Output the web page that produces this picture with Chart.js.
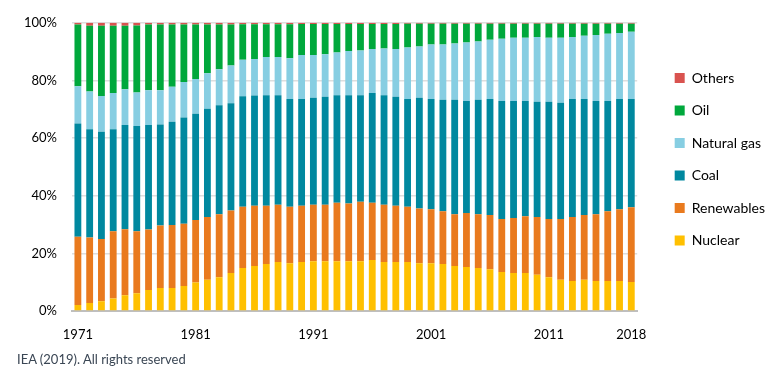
<!DOCTYPE html>
<html>
<head>
<meta charset="utf-8">
<script src="https://cdn.jsdelivr.net/npm/chart.js@4/dist/chart.umd.min.js"></script>
<style>
  body { margin: 0; background: #fff; }
  #wrap { position: relative; width: 781px; height: 384px; }
  #note { position: absolute; left: 17px; top: 351px; font: 13px Lato, 'Open Sans', sans-serif; color: #3a4654; }
</style>
</head>
<body>
<div id="wrap">
  <canvas id="mix"></canvas>
  <div id="note">IEA (2019). All rights reserved</div>
</div>
<script>
const years = []
for (let y = 1971; y <= 2018; y++) years.push(String(y))
const shownYears = ['1971', '1981', '1991', '2001', '2011', '2018']

// shares in %
const nuclear = [2.1, 2.8, 3.4, 4.3, 5.5, 6.2, 7.3, 8.0, 8.0, 8.7, 9.9, 10.8, 11.7, 13.2, 14.9, 15.6,
  16.3, 17.0, 16.6, 17.0, 17.3, 17.3, 17.3, 17.3, 17.3, 17.7, 17.0, 17.0, 17.0, 16.6, 16.6, 16.3,
  15.6, 15.3, 14.9, 14.5, 13.5, 13.2, 13.2, 12.6, 11.7, 10.8, 10.4, 10.8, 10.4, 10.4, 10.4, 10.1]
const renewables = [23.7, 22.7, 21.6, 23.4, 22.9, 21.5, 21.0, 21.7, 21.8, 21.6, 21.7, 21.8, 21.9, 21.7, 21.3, 20.9,
  20.2, 19.9, 19.6, 19.5, 19.6, 19.6, 20.3, 20.0, 20.6, 19.9, 19.9, 19.5, 19.2, 19.0, 18.7, 18.3,
  18.0, 18.7, 18.7, 18.8, 18.4, 19.1, 19.7, 20.0, 20.2, 21.1, 22.2, 22.5, 23.2, 24.2, 24.9, 25.9]
const coal = [39.3, 37.6, 37.2, 35.4, 36.1, 36.5, 36.2, 35.0, 35.9, 36.8, 36.8, 37.6, 37.8, 37.2, 38.3, 38.3,
  38.4, 38.0, 37.4, 37.1, 37.1, 37.4, 37.3, 37.6, 37.0, 38.0, 38.0, 37.8, 37.4, 38.4, 38.3, 38.7,
  39.7, 38.9, 39.7, 40.3, 41.0, 40.6, 40.0, 40.0, 40.7, 40.4, 41.0, 40.3, 39.3, 38.3, 38.3, 37.6]
const naturalGas = [12.9, 13.1, 12.4, 12.5, 12.4, 11.6, 12.1, 11.9, 12.1, 12.4, 12.1, 12.3, 12.5, 13.1, 12.7, 12.6,
  13.2, 13.2, 14.1, 15.2, 14.8, 14.8, 14.8, 15.3, 15.5, 15.3, 16.2, 16.6, 17.8, 17.8, 18.9, 19.2,
  19.5, 20.3, 20.2, 20.5, 21.6, 21.9, 21.9, 22.5, 22.2, 22.5, 21.5, 21.9, 22.9, 23.3, 22.9, 23.3]
const oil = [21.4, 22.8, 24.4, 23.4, 22.1, 23.3, 22.8, 22.8, 21.6, 19.9, 18.9, 16.9, 15.5, 14.2, 12.3, 12.1,
  11.4, 11.4, 11.8, 10.8, 10.8, 10.5, 9.9, 9.4, 9.2, 8.7, 8.5, 8.7, 8.3, 7.9, 7.2, 7.2,
  6.9, 6.5, 6.2, 5.6, 5.2, 4.9, 4.9, 4.6, 4.9, 4.9, 4.6, 4.2, 3.9, 3.5, 3.2, 2.8]
const others = [0.6, 1.0, 1.0, 1.0, 1.0, 0.9, 0.6, 0.6, 0.6, 0.6, 0.6, 0.6, 0.6, 0.6, 0.5, 0.5,
  0.5, 0.5, 0.5, 0.4, 0.4, 0.4, 0.4, 0.4, 0.4, 0.4, 0.4, 0.4, 0.3, 0.3, 0.3, 0.3,
  0.3, 0.3, 0.3, 0.3, 0.3, 0.3, 0.3, 0.3, 0.3, 0.3, 0.3, 0.3, 0.3, 0.3, 0.3, 0.3]

const font = "Lato, 'Open Sans', sans-serif"

const series = [
  ['Nuclear', nuclear, '#ffc000'],
  ['Renewables', renewables, '#e97a1e'],
  ['Coal', coal, '#00889f'],
  ['Natural gas', naturalGas, '#87cee2'],
  ['Oil', oil, '#00a83c'],
  ['Others', others, '#d9534f'],
]

const data = {
  labels: years,
  datasets: series.map(([label, values, color]) => ({
    label,
    data: values,
    backgroundColor: color,
    borderWidth: 0,
    barPercentage: 0.58,
    categoryPercentage: 1,
  })),
}

const config = {
  type: 'bar',
  data,
  options: {
    responsive: true,
    maintainAspectRatio: false,
    animation: false,
    layout: { padding: { top: 22, left: 0, right: 6, bottom: 0 } },
    plugins: {
      tooltip: { enabled: false },
      legend: {
        position: 'right',
        align: 'start',
        reverse: true,
        // empty title only pushes the items down
        title: { display: true, text: ' ', font: { size: 10 }, padding: { top: 18.5, bottom: 0 } },
        labels: {
          boxWidth: 10,
          boxHeight: 10,
          padding: 18.5,
          color: '#000',
          font: { family: font, size: 14 },
        },
      },
    },
    scales: {
      x: {
        stacked: true,
        grid: { display: false },
        border: { color: '#bfbfbf', width: 2 },
        ticks: {
          autoSkip: false,
          maxRotation: 0,
          padding: 8,
          color: '#000',
          font: { family: font, size: 13 },
          callback: function (v) {
            const lab = this.getLabelForValue(v)
            return shownYears.includes(lab) ? lab : ''
          },
        },
        afterFit: (s) => { s.height = 73 },
      },
      y: {
        stacked: true,
        min: 0,
        max: 100,
        border: { display: false },
        grid: { color: '#dedede', lineWidth: 1.5, drawTicks: false },
        ticks: {
          stepSize: 20,
          padding: 15,
          color: '#000',
          font: { family: font, size: 13 },
          callback: (v) => v + '%',
        },
        afterFit: (s) => { s.width = 72 },
      },
      gap: {
        position: 'right',
        display: true,
        grid: { display: false },
        border: { display: false },
        ticks: { display: false },
        afterFit: (s) => { s.width = 19 },
      },
    },
  },
}

new Chart(document.getElementById('mix'), config)
</script>
</body>
</html>
